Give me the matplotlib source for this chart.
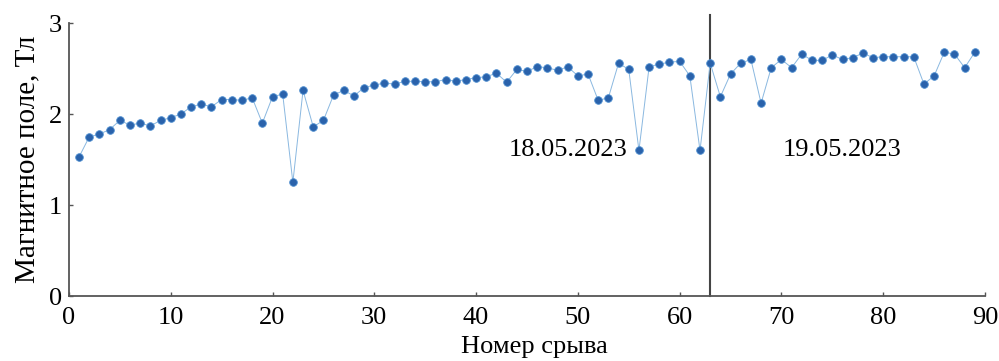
import matplotlib.pyplot as plt
import numpy as np

plt.rcParams['font.family'] = ['Liberation Serif', 'DejaVu Serif']

# номер срыва и магнитное поле, Тл
shot = np.arange(1, 90)
field = [1.53, 1.75, 1.78, 1.83, 1.93, 1.88, 1.90, 1.87, 1.93, 1.96,
         2.00, 2.08, 2.11, 2.08, 2.16, 2.16, 2.15, 2.18, 1.90, 2.19,
         2.22, 1.25, 2.26, 1.86, 1.93, 2.21, 2.26, 2.20, 2.29, 2.32,
         2.34, 2.33, 2.36, 2.36, 2.355, 2.355, 2.38, 2.36, 2.38, 2.40,
         2.41, 2.45, 2.35, 2.49, 2.47, 2.52, 2.51, 2.48, 2.52, 2.42,
         2.44, 2.15, 2.18, 2.56, 2.49, 1.60, 2.52, 2.55, 2.57, 2.58,
         2.42, 1.60, 2.56, 2.19, 2.44, 2.56, 2.60, 2.12, 2.51, 2.60,
         2.51, 2.66, 2.59, 2.59, 2.65, 2.60, 2.62, 2.67, 2.62, 2.63,
         2.63, 2.63, 2.63, 2.33, 2.42, 2.68, 2.66, 2.51, 2.68]

day_split = 63
day_labels = ['18.05.2023', '19.05.2023']

fig = plt.figure(figsize=(9.99, 3.61), dpi=100)
ax = fig.add_axes([0.069, 0.18, 0.917, 0.756])

ax.plot(shot, field, '-', color='#8ab8e0', lw=0.7, zorder=2)
ax.plot(shot, field, 'o', color='#2a62ab', markersize=5.5,
        markeredgecolor='#4f8fd0', markeredgewidth=0.6, zorder=3)

ax.axvline(day_split, ymin=0, ymax=1.03, color='#444444', lw=1.5, clip_on=False, zorder=1)

ax.text(54.9, 1.6, day_labels[0], ha='right', va='center', fontsize=19)
ax.text(70.1, 1.6, day_labels[1], ha='left', va='center', fontsize=19)

ax.set_xlim(0, 90)
ax.set_ylim(0, 3)
ax.set_xticks(np.arange(0, 91, 10))
ax.set_yticks([0, 1, 2, 3])

ax.spines['top'].set_visible(False)
ax.spines['right'].set_visible(False)
ax.spines['left'].set_color('#555555')
ax.spines['bottom'].set_color('#555555')
ax.spines['left'].set_linewidth(1.3)
ax.spines['bottom'].set_linewidth(1.3)
ax.tick_params(direction='in', length=3, width=1, color='#555555', labelsize=19)
ax.tick_params(axis='x', pad=8)
ax.tick_params(axis='y', pad=5)

ax.set_xlabel('Номер срыва', fontsize=19)
ax.xaxis.set_label_coords(0.508, -0.145)
ax.set_ylabel('Магнитное поле, Тл', fontsize=21, labelpad=6)

plt.savefig('out.png', dpi=100)
